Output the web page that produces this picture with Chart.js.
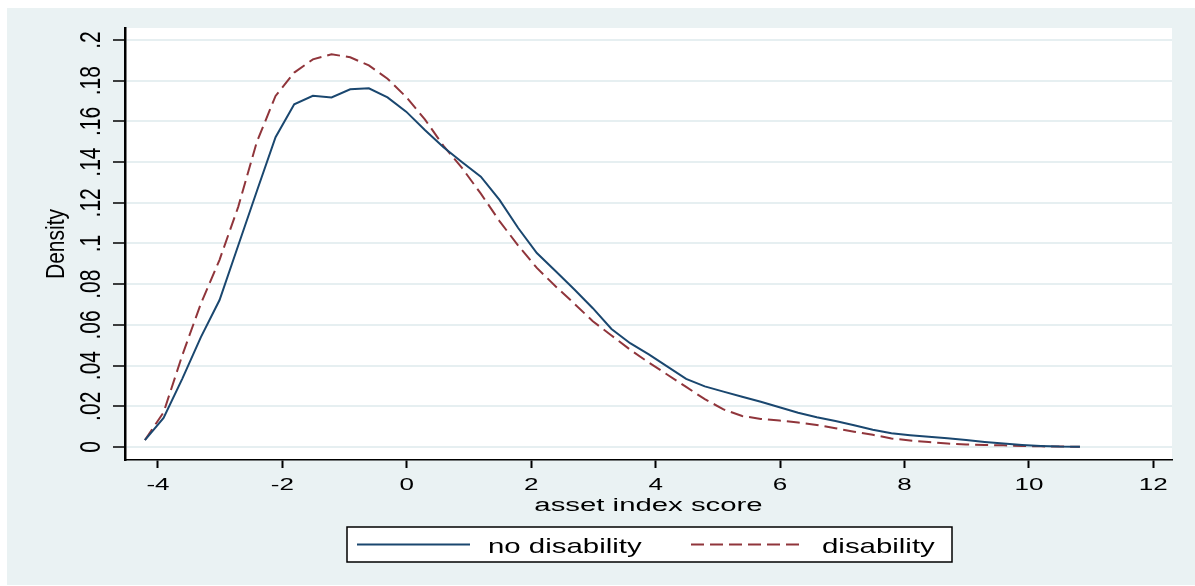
<!DOCTYPE html>
<html>
<head>
<meta charset="utf-8">
<script src="https://cdn.jsdelivr.net/npm/chart.js@4.4.1/dist/chart.umd.min.js"></script>
<style>
  html, body { margin: 0; padding: 0; background: #ffffff; }
  #wrap { width: 1195px; height: 586px; }
</style>
</head>
<body>
<div id="wrap"><canvas id="c" width="1195" height="586"></canvas></div>
<script>
// ---- data ----
const xValues = [-4.21, -3.91, -3.61, -3.31, -3.01, -2.71, -2.41, -2.11, -1.81, -1.51,
                 -1.21, -0.91, -0.61, -0.31, -0.01, 0.29, 0.59, 0.89, 1.19, 1.49,
                 1.79, 2.09, 2.39, 2.69, 2.99, 3.29, 3.59, 3.89, 4.19, 4.49,
                 4.79, 5.09, 5.39, 5.69, 5.99, 6.29, 6.59, 6.89, 7.19, 7.49,
                 7.79, 8.09, 8.39, 8.69, 8.99, 9.29, 9.59, 9.89, 10.19, 10.49, 10.82];

const noDisability = [0.0034, 0.0143, 0.0335, 0.0540, 0.0722, 0.0990, 0.1258, 0.1522, 0.1684, 0.1726,
                      0.1718, 0.1758, 0.1763, 0.1718, 0.1648, 0.1558, 0.1473, 0.1399, 0.1328, 0.1214,
                      0.1076, 0.0953, 0.0865, 0.0775, 0.0682, 0.0580, 0.0510, 0.0455, 0.0395, 0.0335,
                      0.0298, 0.0272, 0.0247, 0.0222, 0.0195, 0.0168, 0.0146, 0.0128, 0.0107, 0.0085,
                      0.0068, 0.0058, 0.0050, 0.0043, 0.0034, 0.0025, 0.0017, 0.0010, 0.0005, 0.0002, 0.0001];

const disability = [0.0034, 0.0170, 0.0450, 0.0705, 0.0920, 0.1180, 0.1500, 0.1725, 0.1840, 0.1905,
                    0.1930, 0.1915, 0.1875, 0.1810, 0.1720, 0.1610, 0.1480, 0.1370, 0.1245, 0.1110,
                    0.0990, 0.0880, 0.0790, 0.0705, 0.0618, 0.0548, 0.0478, 0.0415, 0.0355, 0.0295,
                    0.0235, 0.0185, 0.0152, 0.0138, 0.0130, 0.0120, 0.0108, 0.0092, 0.0075, 0.0060,
                    0.0042, 0.0032, 0.0024, 0.0017, 0.0012, 0.0010, 0.0008, 0.0005, 0.0003, 0.0002, 0.0001];

const seriesLabels = ['no disability', 'disability'];
const xTickValues = [-4, -2, 0, 2, 4, 6, 8, 10, 12];
const xTickLabels = ['-4', '-2', '0', '2', '4', '6', '8', '10', '12'];
const yTickValues = [0, 0.02, 0.04, 0.06, 0.08, 0.10, 0.12, 0.14, 0.16, 0.18, 0.20];
const yTickLabels = ['0', '.02', '.04', '.06', '.08', '.1', '.12', '.14', '.16', '.18', '.2'];
const xTitle = 'asset index score';
const yTitle = 'Density';

// ---- styling ----
const BG = '#EAF2F3';
const BLUE = '#1A476F';
const RED = '#90353B';
const FONT = '"Liberation Sans", Arial, Helvetica, sans-serif';

function sText(ctx, txt, x, y, size, sx, align) {
  ctx.save();
  ctx.translate(x, y);
  ctx.scale(sx, 1);
  ctx.font = size + 'px ' + FONT;
  ctx.textAlign = align;
  ctx.textBaseline = 'alphabetic';
  ctx.fillStyle = '#000';
  ctx.fillText(txt, 0, 0);
  ctx.restore();
}
function rText(ctx, txt, x, y, size, sx) {
  ctx.save();
  ctx.translate(x, y);
  ctx.scale(sx, 1);
  ctx.rotate(-Math.PI / 2);
  ctx.font = size + 'px ' + FONT;
  ctx.textAlign = 'center';
  ctx.textBaseline = 'alphabetic';
  ctx.fillStyle = '#000';
  ctx.fillText(txt, 0, 0);
  ctx.restore();
}
function findIdx(arr, v) {
  for (let i = 0; i < arr.length; i++) if (Math.abs(arr[i] - v) < 1e-9) return i;
  return -1;
}

const stataPlugin = {
  id: 'stata',
  beforeDraw(chart) {
    const ctx = chart.ctx, a = chart.chartArea;
    ctx.save();
    ctx.fillStyle = '#ffffff';
    ctx.fillRect(0, 0, chart.width, chart.height);
    ctx.fillStyle = BG;
    ctx.fillRect(7, 8, chart.width - 7, chart.height - 9);
    ctx.fillStyle = '#ffffff';
    ctx.fillRect(a.left, a.top, a.right - a.left, a.bottom - a.top);
    ctx.restore();
  },
  afterDraw(chart) {
    const ctx = chart.ctx, a = chart.chartArea;
    const xs = chart.scales.x, ys = chart.scales.y;
    // x tick labels
    xs.ticks.forEach(t => {
      const i = findIdx(xTickValues, t.value);
      if (i < 0) return;
      sText(ctx, xTickLabels[i], xs.getPixelForValue(t.value), 489.5, 17, 1.53, 'center');
    });
    // y tick labels (rotated)
    ys.ticks.forEach(t => {
      const i = findIdx(yTickValues, t.value);
      if (i < 0) return;
      rText(ctx, yTickLabels[i], 100, ys.getPixelForValue(t.value), 21, 1.4);
    });
    // axis titles
    sText(ctx, xTitle, (a.left + a.right) / 2, 511, 18, 1.63, 'center');
    rText(ctx, yTitle, 64, (a.top + a.bottom) / 2, 21, 1.2);
    // legend
    const lx0 = 347, lx1 = 952, ly0 = 527, ly1 = 562;
    ctx.save();
    ctx.fillStyle = '#ffffff';
    ctx.fillRect(lx0, ly0, lx1 - lx0, ly1 - ly0);
    ctx.strokeStyle = '#000';
    ctx.lineWidth = 1.5;
    ctx.strokeRect(lx0, ly0, lx1 - lx0, ly1 - ly0);
    const ds = chart.data.datasets;
    const ly = 544.5;
    const items = [{x0: 357, x1: 470, tx: 488}, {x0: 691, x1: 804, tx: 822}];
    items.forEach((it, k) => {
      ctx.beginPath();
      ctx.strokeStyle = ds[k].borderColor;
      ctx.lineWidth = 2;
      ctx.setLineDash(ds[k].borderDash || []);
      ctx.moveTo(it.x0, ly);
      ctx.lineTo(it.x1, ly);
      ctx.stroke();
      ctx.setLineDash([]);
      sText(ctx, ds[k].label, it.tx, 553, 21, 1.4, 'left');
    });
    ctx.restore();
  }
};

const chart = new Chart(document.getElementById('c'), {
  type: 'line',
  data: {
    datasets: [
      {
        label: seriesLabels[0],
        data: xValues.map((x, i) => ({x: x, y: noDisability[i]})),
        borderColor: BLUE,
        borderWidth: 2,
        pointRadius: 0,
        tension: 0,
        fill: false
      },
      {
        label: seriesLabels[1],
        data: xValues.map((x, i) => ({x: x, y: disability[i]})),
        borderColor: RED,
        borderWidth: 2,
        borderDash: [13, 6],
        pointRadius: 0,
        tension: 0,
        fill: false
      }
    ]
  },
  options: {
    responsive: false,
    animation: false,
    devicePixelRatio: 1,
    layout: { padding: { top: 28, right: 23, bottom: 0, left: 0 } },
    plugins: { legend: { display: false }, tooltip: { enabled: false }, title: { display: false } },
    scales: {
      x: {
        type: 'linear',
        min: -4.53,
        max: 12.3,
        afterFit(s) { s.height = 126; },
        border: { display: true, color: '#000', width: 1.5 },
        grid: { display: true, drawOnChartArea: false, drawTicks: true, tickLength: 8, tickColor: '#000', tickWidth: 2 },
        ticks: { stepSize: 2, includeBounds: false, autoSkip: false, maxRotation: 0, color: 'rgba(0,0,0,0)', font: { size: 10 } },
        title: { display: false }
      },
      y: {
        type: 'linear',
        min: -0.0064,
        max: 0.2059,
        afterFit(s) { s.width = 125; },
        border: { display: true, color: '#000', width: 2.5 },
        grid: { display: true, drawOnChartArea: true, color: '#E6EFF1', lineWidth: 2, drawTicks: true, tickLength: 12, tickColor: '#000', tickWidth: 1.5 },
        ticks: { stepSize: 0.02, includeBounds: false, autoSkip: false, color: 'rgba(0,0,0,0)', font: { size: 10 } },
        title: { display: false }
      }
    }
  },
  plugins: [stataPlugin]
});
</script>
</body>
</html>
